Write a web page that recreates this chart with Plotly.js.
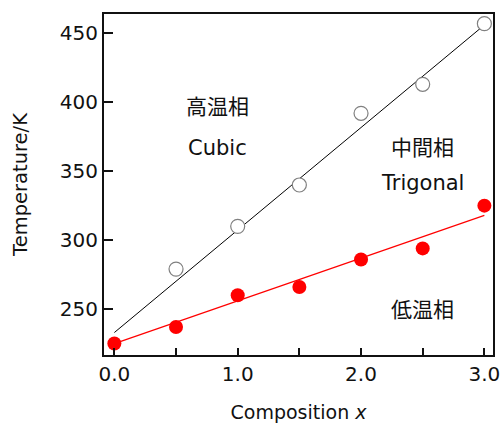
<!DOCTYPE html>
<html>
<head>
<meta charset="utf-8">
<script src="https://cdn.plot.ly/plotly-3.0.1.min.js"></script>
<style>html,body{margin:0;padding:0;background:#fff;}#chart{width:500px;height:423px;}</style>
</head>
<body>
<div id="chart"></div>
<script>
// Composition x
const compX = [0.5, 1.0, 1.5, 2.0, 2.5, 3.0];
const compXLow = [0.0, 0.5, 1.0, 1.5, 2.0, 2.5, 3.0];
// High-temperature transition (open circles)
const highT = [279, 310, 340, 392, 413, 457];
// Low-temperature transition (filled red circles)
const lowT = [225, 237, 260, 266, 286, 294, 325];
// Fitted lines
const fitX = [0.0, 3.0];
const highFit = [233, 456];
const lowFit = [225, 318];
// Axis ticks
const xTicks = [0, 1, 2, 3];
const xTickText = ['0.0', '1.0', '2.0', '3.0'];
const yTicks = [250, 300, 350, 400, 450];
// Phase labels
const labelText = ['高温相', 'Cubic', '中間相', 'Trigonal', '低温相'];
const labelX = [0.835, 0.835, 2.495, 2.495, 2.495];
const labelY = [396.5, 367, 367, 341.5, 249];

const font = 'DejaVu Sans, Noto Sans CJK JP, sans-serif';

const traces = [
  {x: fitX, y: highFit, mode: 'lines', line: {color: '#000', width: 1}, hoverinfo: 'skip'},
  {x: fitX, y: lowFit, mode: 'lines', line: {color: '#ff0000', width: 1.2}, hoverinfo: 'skip'},
  {x: compX, y: highT, mode: 'markers',
   marker: {symbol: 'circle', size: 14, color: '#ffffff', line: {color: '#808080', width: 1.2}}},
  {x: compXLow, y: lowT, mode: 'markers',
   marker: {symbol: 'circle', size: 14, color: '#ff0000', line: {width: 0}}}
];

const annotations = labelText.map((t, i) => ({
  x: labelX[i], y: labelY[i], xref: 'x', yref: 'y', text: t, showarrow: false,
  font: {family: font, size: 21, color: '#111'}
}));

const layout = {
  width: 500, height: 423,
  margin: {l: 104, r: 7, t: 14, b: 68},
  paper_bgcolor: '#fff', plot_bgcolor: '#fff',
  showlegend: false,
  font: {family: font, color: '#111'},
  xaxis: {
    range: [-0.084, 3.07], tickvals: xTicks, ticktext: xTickText,
    ticks: 'inside', ticklen: 7, tickwidth: 2, tickcolor: '#111',
    minor: {dtick: 0.5, tick0: 0, ticks: 'inside', ticklen: 7, tickwidth: 2, tickcolor: '#111'},
    showline: true, linecolor: '#111', linewidth: 2, mirror: true,
    showgrid: false, zeroline: false, ticklabeloverflow: 'allow',
    tickfont: {family: font, size: 20, color: '#111'},
    title: {text: 'Composition <i>x</i>', font: {family: font, size: 19, color: '#111'}, standoff: 28}
  },
  yaxis: {
    range: [216.7, 464], tickvals: yTicks,
    ticks: 'inside', ticklen: 9, tickwidth: 2, tickcolor: '#111',
    showline: true, linecolor: '#111', linewidth: 2, mirror: true,
    showgrid: false, zeroline: false,
    tickfont: {family: font, size: 20, color: '#111'},
    title: {text: 'Temperature/K', font: {family: font, size: 19.5, color: '#111'}, standoff: 27}
  },
  annotations: annotations
};

Plotly.newPlot('chart', traces, layout, {displayModeBar: false, staticPlot: true});
</script>
</body>
</html>
